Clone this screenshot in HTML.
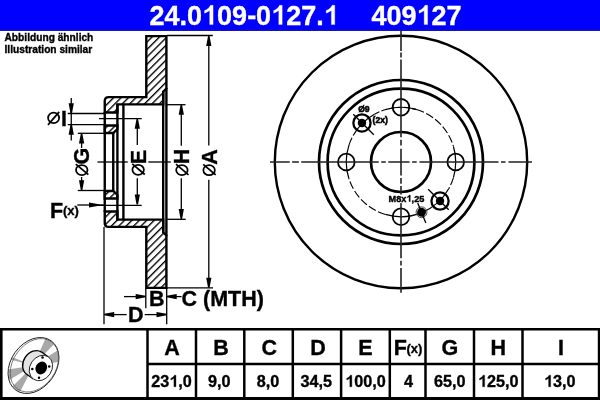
<!DOCTYPE html>
<html><head><meta charset="utf-8">
<style>
html,body{margin:0;padding:0;background:#fff;width:600px;height:400px;overflow:hidden}
text{stroke:#000;stroke-width:0.35px}
tspan.one{fill-opacity:0;stroke-opacity:0}
text[fill="#fff"]{stroke:#fff}
svg{display:block;font-family:"Liberation Sans",sans-serif;will-change:transform}

</style></head>
<body>
<svg width="600" height="400" viewBox="0 0 600 400">
<defs>
<pattern id="hatch" patternUnits="userSpaceOnUse" width="5.245" height="10" patternTransform="translate(0,2.62) rotate(45)">
<rect x="0" y="0" width="1.35" height="10" fill="#000"/>
</pattern>
</defs>
<!-- header -->
<rect x="0" y="0" width="600" height="30.9" fill="#0000ff"/>
<rect x="0" y="29.6" width="600" height="1.3" fill="#1414b4"/>
<text x="149.5" y="24.6" font-size="27" font-weight="bold" fill="#fff">24.0<tspan class="one">1</tspan>09-0<tspan class="one">1</tspan>27.<tspan class="one">1</tspan></text>
<text x="371.5" y="24.6" font-size="27" font-weight="bold" fill="#fff">409<tspan class="one">1</tspan>27</text>
<text x="4.5" y="41" font-size="10.2" font-weight="bold">Abbildung ähnlich</text>
<text x="4.5" y="52.5" font-size="10.2" font-weight="bold">Illustration similar</text>

<!-- table -->
<g stroke="#000" fill="none">
<line x1="0" y1="329.25" x2="600" y2="329.25" stroke-width="2.6"/>
<line x1="0" y1="398.5" x2="600" y2="398.5" stroke-width="3"/>
<line x1="1.3" y1="328" x2="1.3" y2="400" stroke-width="2.6"/>
<line x1="599" y1="328" x2="599" y2="400" stroke-width="2.4"/>
<line x1="147.5" y1="364" x2="600" y2="364" stroke-width="2.5"/>
<g stroke-width="2.5">
<line x1="147.5" y1="328" x2="147.5" y2="400"/>
<line x1="196" y1="328" x2="196" y2="400"/>
<line x1="244.3" y1="328" x2="244.3" y2="400"/>
<line x1="292.8" y1="328" x2="292.8" y2="400"/>
<line x1="341.1" y1="328" x2="341.1" y2="400"/>
<line x1="389.8" y1="328" x2="389.8" y2="400"/>
<line x1="425.5" y1="328" x2="425.5" y2="400"/>
<line x1="474" y1="328" x2="474" y2="400"/>
<line x1="522.5" y1="328" x2="522.5" y2="400"/>
</g>
</g>
<g font-weight="bold" text-anchor="middle">
<g font-size="21.5">
<text x="172" y="355">A</text>
<text x="221" y="355">B</text>
<text x="269.2" y="355">C</text>
<text x="318" y="355">D</text>
<text x="365.5" y="355">E</text>
<text x="449.8" y="355">G</text>
<text x="498.3" y="355">H</text>
<text x="561" y="355">I</text>
</g>
<text x="393.8" y="354.9" font-size="21.5" text-anchor="start">F</text>
<text x="406.5" y="353" font-size="13" text-anchor="start">(x)</text>
<g font-size="16.2">
<text x="171.6" y="386.8">23<tspan class="one">1</tspan>,0</text>
<text x="219.3" y="386.8">9,0</text>
<text x="268" y="386.8">8,0</text>
<text x="316.3" y="386.8">34,5</text>
<text x="365.5" y="386.8"><tspan class="one">1</tspan>00,0</text>
<text x="408.5" y="386.8">4</text>
<text x="449.8" y="386.8">65,0</text>
<text x="498.3" y="386.8"><tspan class="one">1</tspan>25,0</text>
<text x="559.8" y="386.8"><tspan class="one">1</tspan>3,0</text>
</g>
</g>


<!-- ===== section view ===== -->
<g id="section">
<path d="M146.3,36.1 H166.4 V88.5 L163.2,91.7 V104.4 H117.4 V112.5 H104.75 V101.1 Q104.75,97.1 108.75,97.1 H146.3 Z" fill="url(#hatch)" stroke="#000" stroke-width="2.4" stroke-linejoin="miter"/>
<path d="M104.75,125.5 H117.4 V129 L113.25,133 H104.75 Z" fill="url(#hatch)" stroke="#000" stroke-width="2.4"/>
<path d="M146.3,287.9 H166.4 V235.5 L163.2,232.3 V219.6 H117.4 V211.5 H104.75 V222.9 Q104.75,226.9 108.75,226.9 H146.3 Z" fill="url(#hatch)" stroke="#000" stroke-width="2.4"/>
<path d="M104.75,198.5 H117.4 V195 L113.25,191 H104.75 Z" fill="url(#hatch)" stroke="#000" stroke-width="2.4"/>
<g stroke="#000" stroke-width="2.4" fill="none">
<line x1="166.4" y1="88" x2="166.4" y2="236"/>
<line x1="163.2" y1="91.5" x2="163.2" y2="232.5"/>
<line x1="104.75" y1="112" x2="104.75" y2="212"/>
<line x1="117.4" y1="104" x2="117.4" y2="220"/>
<line x1="113.25" y1="133" x2="113.25" y2="191"/>
<line x1="123.4" y1="104" x2="123.4" y2="220"/>
</g>
<!-- thin lines -->
<g stroke="#000" stroke-width="1.3" fill="none">
<!-- extension lines -->
<line x1="167" y1="35.5" x2="212.8" y2="35.5"/>
<line x1="167" y1="287.8" x2="213" y2="287.8"/>
<line x1="167" y1="104.7" x2="185.5" y2="104.7"/>
<line x1="167" y1="219.3" x2="185.7" y2="219.3"/>
<line x1="99" y1="118.6" x2="141.7" y2="118.6"/>
<line x1="99" y1="205.3" x2="141.7" y2="205.3"/>
<line x1="77.8" y1="133.3" x2="105" y2="133.3"/>
<line x1="77.8" y1="190.5" x2="105" y2="190.5"/>
<line x1="67.75" y1="113.5" x2="105" y2="113.5"/>
<line x1="67.75" y1="124.6" x2="105" y2="124.6"/>
<!-- axis -->
<line x1="97.5" y1="162" x2="127.75" y2="162"/>
<line x1="148.3" y1="162" x2="170.8" y2="162"/>
<!-- dimension lines -->
<line x1="208.8" y1="40" x2="208.8" y2="145.5"/>
<line x1="208.8" y1="179.7" x2="208.8" y2="283"/>
<line x1="181.3" y1="108" x2="181.3" y2="145.8"/>
<line x1="181.3" y1="178.3" x2="181.3" y2="215"/>
<line x1="137.3" y1="122" x2="137.3" y2="145"/>
<line x1="137.3" y1="178.3" x2="137.3" y2="201"/>
<line x1="81.6" y1="137" x2="81.6" y2="148"/>
<line x1="81.6" y1="177" x2="81.6" y2="187"/>
<line x1="71.25" y1="98" x2="71.25" y2="140.6"/>
<line x1="77.3" y1="205" x2="105" y2="205"/>
<line x1="124" y1="296.6" x2="142" y2="296.6"/>
<line x1="170" y1="296.6" x2="181.6" y2="296.6"/>
<line x1="108" y1="314.6" x2="126.7" y2="314.6"/>
<line x1="144.7" y1="314.6" x2="163" y2="314.6"/>
<line x1="104" y1="227" x2="104" y2="324.3"/>
<line x1="145.8" y1="288" x2="145.8" y2="308.3"/>
<line x1="166.7" y1="288" x2="166.7" y2="324.3"/>
</g>
<!-- arrowheads -->
<g fill="#000">
<path d="M208.05,36.00 L209.55,36.00 L211.40,46.00 L206.20,46.00 Z"/>
<path d="M208.05,287.70 L209.55,287.70 L211.40,277.70 L206.20,277.70 Z"/>
<path d="M180.55,104.70 L182.05,104.70 L183.90,114.70 L178.70,114.70 Z"/>
<path d="M180.55,219.00 L182.05,219.00 L183.90,209.00 L178.70,209.00 Z"/>
<path d="M136.55,118.70 L138.05,118.70 L139.90,128.70 L134.70,128.70 Z"/>
<path d="M136.55,204.40 L138.05,204.40 L139.90,194.40 L134.70,194.40 Z"/>
<path d="M80.85,133.40 L82.35,133.40 L84.20,143.40 L79.00,143.40 Z"/>
<path d="M80.85,190.30 L82.35,190.30 L84.20,180.30 L79.00,180.30 Z"/>
<path d="M70.50,113.30 L72.00,113.30 L73.85,103.30 L68.65,103.30 Z"/>
<path d="M70.50,124.80 L72.00,124.80 L73.85,134.80 L68.65,134.80 Z"/>
<path d="M99.00,204.25 L99.00,205.75 L89.00,207.60 L89.00,202.40 Z"/>
<path d="M145.70,295.85 L145.70,297.35 L135.70,299.20 L135.70,294.00 Z"/>
<path d="M166.70,295.85 L166.70,297.35 L176.70,299.20 L176.70,294.00 Z"/>
<path d="M104.20,313.85 L104.20,315.35 L114.20,317.20 L114.20,312.00 Z"/>
<path d="M166.50,313.85 L166.50,315.35 L156.50,317.20 L156.50,312.00 Z"/>
</g>
<!-- labels -->
<g font-weight="bold" font-size="21.5">
<g transform="translate(216.6,165.8) rotate(-90)"><text x="0" y="0" dx="1">A</text></g>
<g transform="translate(189.3,165.2) rotate(-90)"><text x="0" y="0" dx="1">H</text></g>
<g transform="translate(145.9,165.2) rotate(-90)"><text x="0" y="0" dx="1">E</text></g>
<g transform="translate(89,165.5) rotate(-90)"><text x="0" y="0" dx="1">G</text></g>
<text x="61" y="125.5">I</text>
<text x="50" y="218">F</text>
<text x="63" y="215.3" font-size="13">(x)</text>
<text x="149" y="305.7">B</text>
<text x="181.5" y="305.5">C (MTH)</text>
<text x="128" y="321.7">D</text>
</g>
<!-- diameter symbols -->
<g stroke="#000" stroke-width="1.75" fill="none">
<g transform="translate(53.6,117.9)"><ellipse rx="5.5" ry="5.3"/><line x1="-5.6" y1="7" x2="5.6" y2="-6"/></g>
<g transform="translate(209.1,170.2)"><ellipse rx="5.75" ry="5.0"/><line x1="-5.9" y1="-5.9" x2="6.6" y2="4.7"/></g>
<g transform="translate(181.9,170.1)"><ellipse rx="5.75" ry="5.0"/><line x1="-5.9" y1="-5.9" x2="6.6" y2="4.7"/></g>
<g transform="translate(138.15,169.8)"><ellipse rx="5.75" ry="5.0"/><line x1="-5.9" y1="-5.9" x2="6.6" y2="4.7"/></g>
<g transform="translate(81.75,170)"><ellipse rx="5.75" ry="5.0"/><line x1="-5.9" y1="-5.9" x2="6.6" y2="4.7"/></g>
</g>
</g>
</g>

<!-- ===== front view ===== -->
<g id="front" fill="none" stroke="#000">
<circle cx="401.0" cy="162.0" r="126.2" stroke-width="2.4"/>
<circle cx="401.0" cy="162.0" r="82" stroke-width="2.7"/>
<circle cx="401.0" cy="162.0" r="73.4" stroke-width="2.7"/>
<circle cx="401.0" cy="162.0" r="30" stroke-width="2.7"/>
<path d="M385.46,109.55 A54.7,54.7 0 0 1 416.54,109.55 M348.98,178.90 A54.7,54.7 0 0 1 348.98,145.10 M453.45,146.46 A54.7,54.7 0 0 1 453.45,177.54 M448.84,188.52 A54.7,54.7 0 0 1 385.46,214.45 M353.16,135.48 A54.7,54.7 0 0 1 374.48,114.16" stroke-width="1.2"/>
<path d="M416.54,109.55 A54.7,54.7 0 0 1 453.45,146.46 M453.45,177.54 A54.7,54.7 0 0 1 448.84,188.52 M385.46,214.45 A54.7,54.7 0 0 1 348.98,178.90 M348.98,145.10 A54.7,54.7 0 0 1 353.16,135.48" stroke-width="1.1" stroke-dasharray="8 2.5"/>
<path d="M374.48,114.16 A54.7,54.7 0 0 1 416.54,109.55" stroke-width="1.1" stroke-dasharray="5.5 2.2"/>
<circle cx="401.00" cy="107.30" r="8.3" stroke-width="1.8"/>
<circle cx="401.00" cy="216.70" r="8.3" stroke-width="1.8"/>
<circle cx="346.30" cy="162.00" r="8.3" stroke-width="1.8"/>
<circle cx="455.70" cy="162.00" r="8.3" stroke-width="1.8"/>
<path d="M270.00,162.00 L289.75,162.00 M292.10,162.00 L298.90,162.00 M301.25,162.00 L378.75,162.00 M381.25,162.00 L385.80,162.00 M388.30,162.00 L409.60,162.00 M412.10,162.00 L416.70,162.00 M419.50,162.00 L498.50,162.00 M501.00,162.00 L505.50,162.00 M508.50,162.00 L532.00,162.00 M401.00,31.00 L401.00,51.00 M401.00,52.50 L401.00,57.50 M401.00,59.50 L401.00,137.30 M401.00,139.75 L401.00,145.40 M401.00,148.70 L401.00,175.50 M401.00,178.00 L401.00,183.70 M401.00,186.00 L401.00,258.30 M401.00,260.70 L401.00,265.50 M401.00,268.00 L401.00,292.70" stroke-width="1.6" stroke="#222"/>
<circle cx="361.97" cy="122.97" r="8.6" stroke-width="2.3"/>
<circle cx="361.97" cy="122.97" r="4.2" fill="#000" stroke="none"/>
<path d="M373.78,134.78 L353.27,114.27" stroke-width="1.3"/>
<circle cx="440.03" cy="201.03" r="8.6" stroke-width="2.3"/>
<circle cx="440.03" cy="201.03" r="4.2" fill="#000" stroke="none"/>
<path d="M428.22,189.22 L448.73,209.73" stroke-width="1.3"/>
<circle cx="421.52" cy="212.27" r="4.4" fill="#000" stroke="none"/>
<circle cx="421.52" cy="212.27" r="5.4" stroke-width="1" stroke="#444"/>
<path d="M417.62,202.74 L425.86,222.92" stroke-width="1.3"/>
</g>
<rect x="388.3" y="194.5" width="37" height="8.6" fill="#fff"/>
<g font-weight="bold">
<text x="358.2" y="111.6" font-size="8.6" style="stroke-width:0.55px">Ø9</text>
<text x="372.6" y="122.6" font-size="8.6" style="stroke-width:0.55px">(2x)</text>
<text x="388.6" y="201.6" font-size="9.2" style="stroke-width:0.4px">M8x<tspan class="one">1</tspan>,25</text>
</g>
<!-- ===== small disc icon ===== -->
<defs><clipPath id="discclip"><ellipse cx="0" cy="0" rx="22.10" ry="29.85" transform="translate(33.50,365.50) rotate(35.40)"/></clipPath></defs>
<g id="icon">
<g clip-path="url(#discclip)" fill="#a8a8a8">
<path d="M33.50,365.50 L49.77,328.96 L61.29,336.73 Z"/>
<path d="M33.50,365.50 L67.42,344.30 L73.11,359.93 Z"/>
<path d="M33.50,365.50 L-0.79,386.10 L-6.01,371.76 Z"/>
<path d="M33.50,365.50 L15.34,401.14 L5.22,393.78 Z"/>
<path d="M33.50,365.50 L-5.23,355.48 L-3.72,350.84 Z"/>
</g>
<ellipse cx="0" cy="0" rx="22.60" ry="30.35" transform="translate(33.50,365.50) rotate(35.40)" fill="none" stroke="#222" stroke-width="0.9"/>
<ellipse cx="0" cy="0" rx="21.30" ry="29.05" transform="translate(34.40,365.30) rotate(35.40)" fill="none" stroke="#555" stroke-width="0.7"/>
<path d="M26.69,374.32 L33.29,379.02 L48.51,356.98 L41.91,352.28 Z" fill="#fff"/>
<ellipse cx="0" cy="0" rx="10.90" ry="13.40" transform="translate(34.30,363.30) rotate(33.00)" fill="#e4e4e4" stroke="#000" stroke-width="1.35"/>
<path d="M26.69,374.32 L33.29,379.02 L48.51,356.98 L41.91,352.28 Z" fill="#e4e4e4"/>
<path d="M26.69,374.32 L33.29,379.02" stroke="#000" stroke-width="1.1"/>
<path d="M48.51,356.98 L41.91,352.28" stroke="#000" stroke-width="1.1"/>
<ellipse cx="0" cy="0" rx="10.90" ry="13.40" transform="translate(40.90,368.00) rotate(33.00)" fill="#fff" stroke="#222" stroke-width="0.9"/>
<ellipse cx="0" cy="0" rx="5.6" ry="6.6" transform="translate(41.3,368) rotate(30)" fill="#000"/>
<circle cx="42.5" cy="357.6" r="1.25" fill="#000"/>
<circle cx="49.2" cy="366.6" r="1.25" fill="#000"/>
<circle cx="39.0" cy="377.8" r="1.25" fill="#000"/>
<circle cx="32.3" cy="369.0" r="1.25" fill="#000"/>
</g>
<g id="ones">
<path transform="translate(202.06,24.60) scale(0.013184,-0.013184)" d="M836,0 L836,1466 L640,1466 Q590,1330 460,1230 Q330,1120 190,1065 L190,870 Q290,900 385,955 Q495,1010 580,1075 L580,0 Z" fill="#fff" stroke="#fff" stroke-width="0.35" vector-effect="non-scaling-stroke"/>
<path transform="translate(271.14,24.60) scale(0.013184,-0.013184)" d="M836,0 L836,1466 L640,1466 Q590,1330 460,1230 Q330,1120 190,1065 L190,870 Q290,900 385,955 Q495,1010 580,1075 L580,0 Z" fill="#fff" stroke="#fff" stroke-width="0.35" vector-effect="non-scaling-stroke"/>
<path transform="translate(323.72,24.60) scale(0.013184,-0.013184)" d="M836,0 L836,1466 L640,1466 Q590,1330 460,1230 Q330,1120 190,1065 L190,870 Q290,900 385,955 Q495,1010 580,1075 L580,0 Z" fill="#fff" stroke="#fff" stroke-width="0.35" vector-effect="non-scaling-stroke"/>
<path transform="translate(416.56,24.60) scale(0.013184,-0.013184)" d="M836,0 L836,1466 L640,1466 Q590,1330 460,1230 Q330,1120 190,1065 L190,870 Q290,900 385,955 Q495,1010 580,1075 L580,0 Z" fill="#fff" stroke="#fff" stroke-width="0.35" vector-effect="non-scaling-stroke"/>
<path transform="translate(169.34,386.80) scale(0.007910,-0.007910)" d="M836,0 L836,1466 L640,1466 Q590,1330 460,1230 Q330,1120 190,1065 L190,870 Q290,900 385,955 Q495,1010 580,1075 L580,0 Z" fill="#000" stroke="#000" stroke-width="0.35" vector-effect="non-scaling-stroke"/>
<path transform="translate(345.23,386.80) scale(0.007910,-0.007910)" d="M836,0 L836,1466 L640,1466 Q590,1330 460,1230 Q330,1120 190,1065 L190,870 Q290,900 385,955 Q495,1010 580,1075 L580,0 Z" fill="#000" stroke="#000" stroke-width="0.35" vector-effect="non-scaling-stroke"/>
<path transform="translate(478.03,386.80) scale(0.007910,-0.007910)" d="M836,0 L836,1466 L640,1466 Q590,1330 460,1230 Q330,1120 190,1065 L190,870 Q290,900 385,955 Q495,1010 580,1075 L580,0 Z" fill="#000" stroke="#000" stroke-width="0.35" vector-effect="non-scaling-stroke"/>
<path transform="translate(544.03,386.80) scale(0.007910,-0.007910)" d="M836,0 L836,1466 L640,1466 Q590,1330 460,1230 Q330,1120 190,1065 L190,870 Q290,900 385,955 Q495,1010 580,1075 L580,0 Z" fill="#000" stroke="#000" stroke-width="0.35" vector-effect="non-scaling-stroke"/>
<path transform="translate(406.48,201.60) scale(0.004492,-0.004492)" d="M836,0 L836,1466 L640,1466 Q590,1330 460,1230 Q330,1120 190,1065 L190,870 Q290,900 385,955 Q495,1010 580,1075 L580,0 Z" fill="#000" stroke="#000" stroke-width="0.4" vector-effect="non-scaling-stroke"/>
</g>
</svg>
</body></html>
